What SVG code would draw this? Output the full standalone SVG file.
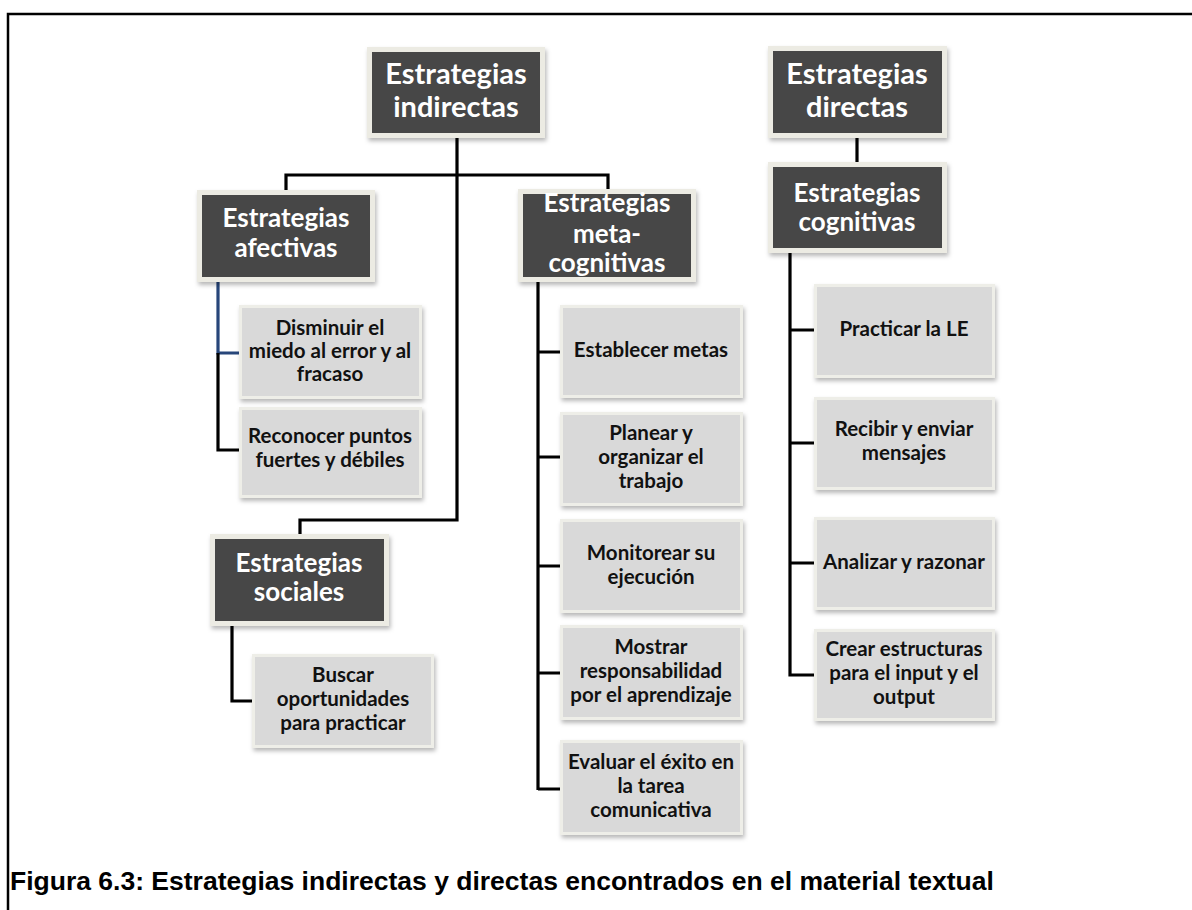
<svg xmlns="http://www.w3.org/2000/svg" width="1192" height="910" viewBox="0 0 1192 910">
  <defs>
    <filter id="shadow" x="-10%" y="-10%" width="125%" height="130%">
      <feDropShadow dx="1.5" dy="3" stdDeviation="2" flood-color="#000" flood-opacity="0.28"/>
    </filter>
    <style>
      .frame { fill: none; stroke: #000; stroke-width: 2.5; }
      .dark-outer { fill: #ecebe3; filter: url(#shadow); }
      .dark { fill: #474747; }
      .light-outer { fill: #eeeee8; filter: url(#shadow); }
      .light { fill: #d9d9d9; }
      .dt { font-family: Lato, "Open Sans", sans-serif; font-weight: 700; font-size: 26px; fill: #fff; text-anchor: middle; }
      .dt.top { font-size: 29px; }
      .lt { font-family: Lato, "Open Sans", sans-serif; font-weight: 700; font-size: 20.5px; fill: #111; text-anchor: middle; }
      .conn { fill: none; stroke: #000; stroke-width: 3.2; }
      .conn-blue { fill: none; stroke: #27467a; stroke-width: 3.2; }
      .caption { font-family: "Liberation Sans", Arial, sans-serif; font-weight: 700; font-size: 26.5px; fill: #000; }
    </style>
  </defs>

  <rect width="1192" height="910" fill="#fff"/>
  <path class="frame" d="M8,910 V14 H1192"/>

  <!-- connectors -->
  <g id="connectors">
    <path class="conn" d="M457,133 V520 H300 V539"/>
    <path class="conn" d="M286,195 V175 H608 V194"/>
    <path class="conn-blue" d="M218,277 V353 H242"/>
    <path class="conn" d="M218,353 V450 H242"/>
    <path class="conn" d="M538,277 V790 M538,352 H563 M538,457 H563 M538,566 H563 M538,673 H563 M538,789 H563"/>
    <path class="conn" d="M857,133 V167"/>
    <path class="conn" d="M790,248 V675 H817 M790,330 H817 M790,443 H817 M790,563 H817"/>
    <path class="conn" d="M232,621 V701 H255"/>
  </g>

  <!-- heading nodes -->
  <g id="n-indirectas">
    <rect class="dark-outer" x="367" y="47" width="178" height="91"/>
    <rect class="dark" x="372" y="52" width="168" height="81"/>
    <text class="dt top" x="456" y="84">Estrategias</text>
    <text class="dt top" x="456" y="117">indirectas</text>
  </g>
  <g id="n-directas">
    <rect class="dark-outer" x="768" y="46" width="179" height="92"/>
    <rect class="dark" x="773" y="51" width="169" height="82"/>
    <text class="dt top" x="857" y="84">Estrategias</text>
    <text class="dt top" x="857" y="117">directas</text>
  </g>
  <g id="n-cognitivas">
    <rect class="dark-outer" x="768" y="162" width="179" height="91"/>
    <rect class="dark" x="773" y="167" width="169" height="81"/>
    <text class="dt" x="857" y="202">Estrategias</text>
    <text class="dt" x="857" y="231">cognitivas</text>
  </g>
  <g id="n-afectivas">
    <rect class="dark-outer" x="197" y="190" width="178" height="92"/>
    <rect class="dark" x="202" y="195" width="168" height="82"/>
    <text class="dt" x="286" y="227">Estrategias</text>
    <text class="dt" x="286" y="257">afectivas</text>
  </g>
  <g id="n-metacognitivas">
    <rect class="dark-outer" x="518" y="189" width="178" height="93"/>
    <rect class="dark" x="523" y="194" width="168" height="83"/>
    <text class="dt" x="607" y="212">Estrategias</text>
    <text class="dt" x="607" y="243">meta-</text>
    <text class="dt" x="607" y="272">cognitivas</text>
  </g>
  <g id="n-sociales">
    <rect class="dark-outer" x="210" y="534" width="179" height="92"/>
    <rect class="dark" x="215" y="539" width="169" height="82"/>
    <text class="dt" x="299" y="572">Estrategias</text>
    <text class="dt" x="299" y="601">sociales</text>
  </g>

  <!-- afectivas items -->
  <g id="n-disminuir">
    <rect class="light-outer" x="239" y="305" width="183" height="94"/>
    <rect class="light" x="242" y="308" width="177" height="88"/>
    <text class="lt" x="330" y="335">Disminuir el</text>
    <text class="lt" x="330" y="358">miedo al error y al</text>
    <text class="lt" x="330" y="381">fracaso</text>
  </g>
  <g id="n-reconocer">
    <rect class="light-outer" x="239" y="407" width="183" height="91"/>
    <rect class="light" x="242" y="410" width="177" height="85"/>
    <text class="lt" x="330" y="443">Reconocer puntos</text>
    <text class="lt" x="330" y="467">fuertes y débiles</text>
  </g>

  <!-- sociales item -->
  <g id="n-buscar">
    <rect class="light-outer" x="252" y="654" width="182" height="94"/>
    <rect class="light" x="255" y="657" width="176" height="88"/>
    <text class="lt" x="343" y="682">Buscar</text>
    <text class="lt" x="343" y="706">oportunidades</text>
    <text class="lt" x="343" y="730">para practicar</text>
  </g>

  <!-- metacognitivas items -->
  <g id="n-establecer">
    <rect class="light-outer" x="560" y="305" width="183" height="93"/>
    <rect class="light" x="563" y="308" width="177" height="87"/>
    <text class="lt" x="651" y="357">Establecer metas</text>
  </g>
  <g id="n-planear">
    <rect class="light-outer" x="560" y="412" width="183" height="94"/>
    <rect class="light" x="563" y="415" width="177" height="88"/>
    <text class="lt" x="651" y="440">Planear y</text>
    <text class="lt" x="651" y="464">organizar el</text>
    <text class="lt" x="651" y="488">trabajo</text>
  </g>
  <g id="n-monitorear">
    <rect class="light-outer" x="560" y="519" width="183" height="94"/>
    <rect class="light" x="563" y="522" width="177" height="88"/>
    <text class="lt" x="651" y="560">Monitorear su</text>
    <text class="lt" x="651" y="584">ejecución</text>
  </g>
  <g id="n-mostrar">
    <rect class="light-outer" x="560" y="625" width="183" height="95"/>
    <rect class="light" x="563" y="628" width="177" height="89"/>
    <text class="lt" x="651" y="654">Mostrar</text>
    <text class="lt" x="651" y="678">responsabilidad</text>
    <text class="lt" x="651" y="702">por el aprendizaje</text>
  </g>
  <g id="n-evaluar">
    <rect class="light-outer" x="560" y="740" width="183" height="95"/>
    <rect class="light" x="563" y="743" width="177" height="89"/>
    <text class="lt" x="651" y="769">Evaluar el éxito en</text>
    <text class="lt" x="651" y="793">la tarea</text>
    <text class="lt" x="651" y="817">comunicativa</text>
  </g>

  <!-- cognitivas items -->
  <g id="n-practicar">
    <rect class="light-outer" x="814" y="284" width="181" height="94"/>
    <rect class="light" x="817" y="287" width="175" height="88"/>
    <text class="lt" x="904" y="336">Practicar la LE</text>
  </g>
  <g id="n-recibir">
    <rect class="light-outer" x="814" y="397" width="181" height="93"/>
    <rect class="light" x="817" y="400" width="175" height="87"/>
    <text class="lt" x="904" y="436">Recibir y enviar</text>
    <text class="lt" x="904" y="460">mensajes</text>
  </g>
  <g id="n-analizar">
    <rect class="light-outer" x="814" y="517" width="181" height="93"/>
    <rect class="light" x="817" y="520" width="175" height="87"/>
    <text class="lt" x="904" y="569">Analizar y razonar</text>
  </g>
  <g id="n-crear">
    <rect class="light-outer" x="814" y="629" width="181" height="92"/>
    <rect class="light" x="817" y="632" width="175" height="86"/>
    <text class="lt" x="904" y="656">Crear estructuras</text>
    <text class="lt" x="904" y="680">para el input y el</text>
    <text class="lt" x="904" y="704">output</text>
  </g>

  <text class="caption" x="10" y="890">Figura 6.3: Estrategias indirectas y directas encontrados en el material textual</text>
</svg>
